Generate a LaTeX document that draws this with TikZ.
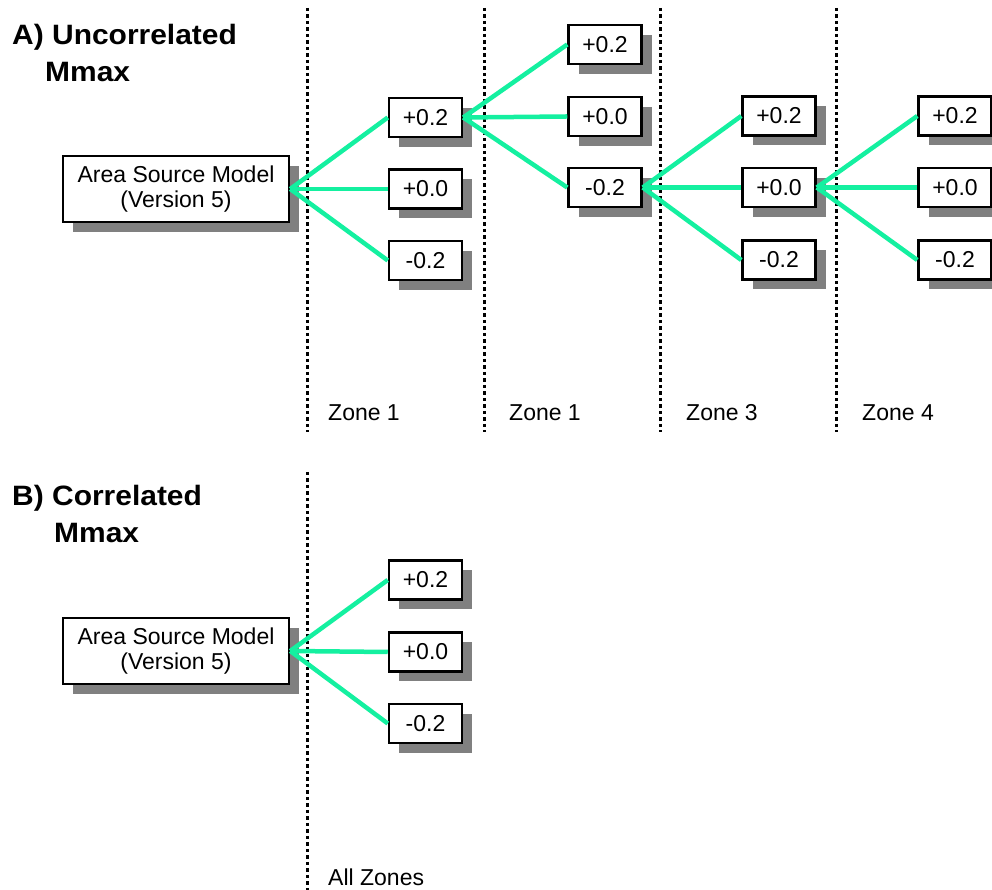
\documentclass[tikz,border=0pt]{standalone}
\usepackage{fontspec}
\setmainfont{Liberation Sans}
\usetikzlibrary{shadows}
\definecolor{mint}{RGB}{20,240,160}
\definecolor{shade}{RGB}{128,128,128}
\tikzset{
  valbox/.style={draw=black, line width=2.5pt, fill=white, inner sep=0pt,
    minimum width=73pt, minimum height=39pt,
    font=\fontsize{23}{27}\selectfont,
    drop shadow={shadow xshift=10pt, shadow yshift=-10pt, opacity=1, fill=shade}},
  modelbox/.style={draw=black, line width=2.5pt, fill=white, inner sep=0pt,
    minimum width=226pt, minimum height=66pt, align=center,
    font=\fontsize{23}{25}\selectfont,
    drop shadow={shadow xshift=10pt, shadow yshift=-10pt, opacity=1, fill=shade}},
  conn/.style={draw=mint, line width=4.5pt},
  zoneline/.style={draw=black, line width=3pt, dash pattern=on 3.5pt off 3pt},
  title/.style={anchor=west, inner sep=0pt, xscale=1.07, font=\fontsize{28}{30}\selectfont\bfseries},
  zonelabel/.style={anchor=west, inner sep=0pt, font=\fontsize{23}{27}\selectfont}
}
\begin{document}
\begin{tikzpicture}[x=1pt, y=1pt]
\useasboundingbox (0,0) rectangle (992,890);
% zone separators
\coordinate (s1t) at (307,882); \coordinate (s1b) at (307,458);
\coordinate (s2t) at (484,882); \coordinate (s2b) at (484,458);
\coordinate (s3t) at (660,882); \coordinate (s3b) at (660,458);
\coordinate (s4t) at (836,882); \coordinate (s4b) at (836,458);
\coordinate (sbt) at (307,418); \coordinate (sbb) at (307,0);
\draw[zoneline] (s1t) -- (s1b);
\draw[zoneline] (s2t) -- (s2b);
\draw[zoneline] (s3t) -- (s3b);
\draw[zoneline] (s4t) -- (s4b);
\draw[zoneline] (sbt) -- (sbb);
% titles
\node[title] (tA1) at (12,853) {A) Uncorrelated};
\node[title] (tA2) at (45,818) {Mmax};
\node[title] (tB1) at (12,392) {B) Correlated};
\node[title] (tB2) at (54,357) {Mmax};
% zone labels
\node[zonelabel] (z1) at (328,477) {Zone 1};
\node[zonelabel] (z2) at (509,477) {Zone 1};
\node[zonelabel] (z3) at (686,477) {Zone 3};
\node[zonelabel] (z4) at (862,477) {Zone 4};
\node[zonelabel] (zall) at (328,13) {All Zones};
% part A
\node[modelbox] (mA) at (176,701) {Area Source Model\\(Version 5)};
\node[valbox] (a1p) at (425.5,772.5) {+0.2};
\node[valbox] (a1z) at (425.5,701) {+0.0};
\node[valbox] (a1m) at (425.5,629.5) {-0.2};
\node[valbox] (a2p) at (605,845.5) {+0.2};
\node[valbox] (a2z) at (605,773.5) {+0.0};
\node[valbox] (a2m) at (605,702.5) {-0.2};
\node[valbox] (a3p) at (779,774) {+0.2};
\node[valbox] (a3z) at (779,702.5) {+0.0};
\node[valbox] (a3m) at (779,630) {-0.2};
\node[valbox] (a4p) at (955,774) {+0.2};
\node[valbox] (a4z) at (955,702.5) {+0.0};
\node[valbox] (a4m) at (955,630) {-0.2};
\draw[conn] (mA.east) -- (a1p.west);
\draw[conn] (mA.east) -- (a1z.west);
\draw[conn] (mA.east) -- (a1m.west);
\draw[conn] (a1p.east) -- (a2p.west);
\draw[conn] (a1p.east) -- (a2z.west);
\draw[conn] (a1p.east) -- (a2m.west);
\draw[conn] (a2m.east) -- (a3p.west);
\draw[conn] (a2m.east) -- (a3z.west);
\draw[conn] (a2m.east) -- (a3m.west);
\draw[conn] (a3z.east) -- (a4p.west);
\draw[conn] (a3z.east) -- (a4z.west);
\draw[conn] (a3z.east) -- (a4m.west);
% part B
\node[modelbox] (mB) at (176,239) {Area Source Model\\(Version 5)};
\node[valbox] (bp) at (425.5,310) {+0.2};
\node[valbox] (bz) at (425.5,238) {+0.0};
\node[valbox] (bm) at (425.5,166.5) {-0.2};
\draw[conn] (mB.east) -- (bp.west);
\draw[conn] (mB.east) -- (bz.west);
\draw[conn] (mB.east) -- (bm.west);
\end{tikzpicture}
\end{document}
